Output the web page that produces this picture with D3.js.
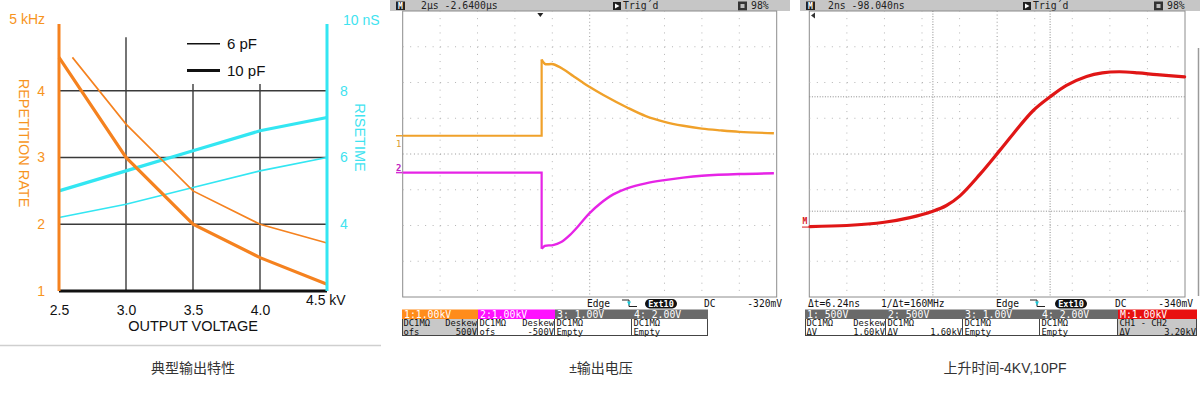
<!DOCTYPE html>
<html><head><meta charset="utf-8">
<script src="https://cdn.jsdelivr.net/npm/d3@7"></script>
<style>body{margin:0;background:#fff}svg{display:block}</style>
</head><body>
<script>
// ---------- Panel 1: typical output characteristics ----------
const voltage = [2.5, 3.0, 3.5, 4.0, 4.5];
const voltage6pF = [2.6, 3.0, 3.5, 4.0, 4.5];
const rate10pF = [4.5, 3.0, 2.0, 1.5, 1.1];
const rate6pF = [4.5, 3.5, 2.5, 2.0, 1.72];
const rise10pF = [5.0, 5.6, 6.2, 6.8, 7.2];
const rise6pF = [4.2, 4.6, 5.1, 5.6, 6.0];
const rateTicks = [1, 2, 3, 4];
const riseTicks = [4, 6, 8];
const voltTicks = [2.5, 3.0, 3.5, 4.0];
const legendLabels = ["6 pF", "10 pF"];
const captions = ["典型输出特性", "±输出电压", "上升时间-4KV,10PF"];

// ---------- Panel 2: ± output voltage (2 µs/div, 1 kV/div) ----------
const ch1Time = [0, 7.43, 7.43, 7.6, 8.05, 8.59, 9.12, 9.57, 9.98, 10.73, 12.0, 13.0, 14.0, 15.0, 16.0, 17.0, 18.0, 19.85];
const ch1Volt = [0.51, 0.51, 2.64, 2.52, 2.51, 2.37, 2.18, 2.02, 1.88, 1.65, 1.30, 1.06, 0.90, 0.79, 0.71, 0.66, 0.62, 0.58];
const ch2Time = [0, 7.43, 7.43, 7.6, 8.04, 8.45, 8.95, 9.45, 9.98, 10.55, 11.26, 12.0, 13.0, 14.0, 15.0, 16.0, 18.0, 19.85];
const ch2Volt = [-0.52, -0.52, -2.65, -2.57, -2.55, -2.47, -2.26, -1.98, -1.66, -1.39, -1.13, -0.96, -0.82, -0.73, -0.66, -0.61, -0.56, -0.54];
const scope2Header = ["2µs -2.6400µs", "Trig´d", "98%"];
const scope2Status = ["Edge", "Ext10", "DC", "-320mV"];
const scope2Heads = ["1:1.00kV", "2:1.00kV", "3: 1.00V", "4: 2.00V"];
const scope2Row2 = [["DC1MΩ", "Deskew"], ["DC1MΩ", "Deskew"], ["DC1MΩ", ""], ["DC1MΩ", ""]];
const scope2Row3 = [["ofs", "500V"], ["ofs", "-500V"], ["Empty", ""], ["Empty", ""]];

// ---------- Panel 3: rise time (2 ns/div, 1 kV/div) ----------
const riseTime = [0.04, 1.99, 3.99, 5.36, 6.58, 7.30, 8.02, 9.08, 10.11, 10.85, 11.91, 12.82, 13.69, 14.76, 15.6, 16.5, 17.5, 18.5, 19.98];
const riseVolt = [-2.03, -2.00, -1.91, -1.78, -1.60, -1.44, -1.17, -0.57, 0.08, 0.56, 1.21, 1.60, 1.92, 2.17, 2.27, 2.30, 2.27, 2.22, 2.16];
const cursorTimes = [6.58, 12.82];
const cursorVolts = [-1.6, 1.6];
const scope3Header = ["2ns -98.040ns", "Trig´d", "98%"];
const scope3Status = ["Δt=6.24ns", "1/Δt=160MHz", "Edge", "Ext10", "DC", "-340mV"];
const scope3Heads = ["1:  500V", "2:  500V", "3: 1.00V", "4: 2.00V", "M:1.00kV"];
const scope3Row2 = [["DC1MΩ", "Deskew"], ["DC1MΩ", ""], ["DC1MΩ", ""], ["DC1MΩ", ""], ["CH1 - CH2", ""]];
const scope3Row3 = [["ΔV", "1.60kV"], ["ΔV", "1.60kV"], ["Empty", ""], ["Empty", ""], ["ΔV", "3.20kV"]];

const svg = d3.select("body").append("svg").attr("width", 1200).attr("height", 400)
  .style("font-family", "Liberation Sans, Arial, sans-serif");

const ORANGE = "#f5821f", ORANGE_T = "#f7941d", CYAN = "#33e6f2", CYAN_T = "#3fe3f0";

// ================= PANEL 1 =================
(function () {
  const g = svg.append("g");
  const x = d3.scaleLinear([2.5, 4.5], [59, 327]);
  const yL = d3.scaleLinear([1, 5], [291, 24]);
  const yR = d3.scaleLinear([2, 10], [291, 24]);

  const grid = g.append("g").attr("stroke", "#3a3a3a").attr("stroke-width", 1.4);
  [2, 3, 4].forEach(v => grid.append("line").attr("x1", x(2.5)).attr("x2", x(4.5)).attr("y1", yL(v)).attr("y2", yL(v)));
  [[3.0, 4.8], [3.5, 4.1], [4.0, 4.1]].forEach(([v, top]) =>
    grid.append("line").attr("x1", x(v)).attr("x2", x(v)).attr("y1", yL(top)).attr("y2", yL(1)));

  const lineL = (xs, ys) => d3.line().x((d, i) => x(xs[i])).y(d => yL(d))(ys);
  const lineR = (xs, ys) => d3.line().x((d, i) => x(xs[i])).y(d => yR(d))(ys);
  g.append("path").attr("d", lineR(voltage, rise6pF)).attr("fill", "none").attr("stroke", CYAN).attr("stroke-width", 1.6);
  g.append("path").attr("d", lineR(voltage, rise10pF)).attr("fill", "none").attr("stroke", CYAN).attr("stroke-width", 3.2);
  g.append("path").attr("d", lineL(voltage6pF, rate6pF)).attr("fill", "none").attr("stroke", ORANGE).attr("stroke-width", 1.6);
  g.append("path").attr("d", lineL(voltage, rate10pF)).attr("fill", "none").attr("stroke", ORANGE).attr("stroke-width", 3.2);

  g.append("line").attr("x1", x(2.5)).attr("x2", x(4.5)).attr("y1", yL(1)).attr("y2", yL(1)).attr("stroke", "#111").attr("stroke-width", 3);
  g.append("line").attr("x1", x(2.5)).attr("x2", x(2.5)).attr("y1", yL(5)).attr("y2", yL(1)).attr("stroke", ORANGE).attr("stroke-width", 3);
  g.append("line").attr("x1", x(4.5)).attr("x2", x(4.5)).attr("y1", yR(10)).attr("y2", yR(2)).attr("stroke", CYAN).attr("stroke-width", 3);

  const ax = (sel) => { sel.select(".domain").remove(); sel.selectAll("text").style("font-family", "Liberation Sans, Arial, sans-serif").style("font-size", "14px"); };
  g.append("g").attr("transform", `translate(${x(2.5)},0)`)
    .call(d3.axisLeft(yL).tickValues(rateTicks).tickFormat(d3.format("d")).tickSize(0).tickPadding(14)).call(ax)
    .selectAll("text").attr("fill", ORANGE_T);
  g.append("g").attr("transform", `translate(${x(4.5)},0)`)
    .call(d3.axisRight(yR).tickValues(riseTicks).tickFormat(d3.format("d")).tickSize(0).tickPadding(13)).call(ax)
    .selectAll("text").attr("fill", CYAN_T);
  g.append("g").attr("transform", `translate(0,${yL(1)})`)
    .call(d3.axisBottom(x).tickValues(voltTicks).tickFormat(d3.format(".1f")).tickSize(0).tickPadding(14)).call(ax)
    .selectAll("text").attr("fill", "#111");

  g.append("text").attr("x", 306).attr("y", 305).attr("font-size", 14).attr("fill", "#111").text("4.5 kV");
  g.append("text").attr("x", 45).attr("y", 24).attr("text-anchor", "end").attr("font-size", 14).attr("fill", ORANGE_T).text("5 kHz");
  g.append("text").attr("x", 343).attr("y", 25).attr("font-size", 14).attr("fill", CYAN_T).text("10 nS");
  g.append("text").attr("x", 193).attr("y", 331).attr("text-anchor", "middle").attr("font-size", 14.5).attr("fill", "#111").text("OUTPUT VOLTAGE");
  g.append("text").attr("transform", "translate(24,143) rotate(90)").attr("text-anchor", "middle").attr("dy", "0.35em")
    .attr("font-size", 14.5).attr("fill", ORANGE_T).text("REPETITION RATE");
  g.append("text").attr("transform", "translate(360,137.5) rotate(90)").attr("text-anchor", "middle").attr("dy", "0.35em")
    .attr("font-size", 14.5).attr("fill", CYAN_T).text("RISETIME");

  const lg = g.append("g");
  legendLabels.forEach((lab, i) => {
    const ly = [43.7, 70.5][i];
    lg.append("line").attr("x1", 187).attr("x2", 220).attr("y1", ly).attr("y2", ly).attr("stroke", "#111").attr("stroke-width", i ? 3.2 : 1.5);
    lg.append("text").attr("x", 227).attr("y", ly).attr("dy", "0.36em").attr("font-size", 15).attr("fill", "#111").text(lab);
  });

  svg.append("line").attr("x1", 0).attr("x2", 381).attr("y1", 345.5).attr("y2", 345.5).attr("stroke", "#cfcfcf").attr("stroke-width", 1.5);
})();

// ================= SCOPE HELPERS =================
const MONO = "DejaVu Sans Mono, Liberation Mono, monospace";
const ys = d3.scaleLinear([-4, 4], [297, 11]);

function headerBar(x0, x1, texts, pos) {
  const g = svg.append("g").style("font-family", MONO);
  g.append("rect").attr("x", x0).attr("y", 0).attr("width", x1 - x0).attr("height", 11).attr("fill", "#c6c6c6");
  g.append("rect").attr("x", pos.m).attr("y", 1.5).attr("width", 9).attr("height", 8.5).attr("fill", "#222");
  g.append("text").attr("x", pos.m + 4.5).attr("y", 9).attr("text-anchor", "middle").attr("font-size", 8).attr("font-weight", "bold").attr("fill", "#fff").text("M");
  g.append("text").attr("x", pos.t).attr("y", 9.3).attr("font-size", 9.8).attr("fill", "#222").text(texts[0]);
  g.append("rect").attr("x", pos.trig).attr("y", 2).attr("width", 8).attr("height", 8).attr("fill", "#222");
  g.append("path").attr("d", `M${pos.trig + 2},${3.5}L${pos.trig + 6.5},${6}L${pos.trig + 2},${8.5}Z`).attr("fill", "#fff");
  g.append("text").attr("x", pos.trig + 10).attr("y", 9.3).attr("font-size", 9.8).attr("fill", "#222").text(texts[1]);
  g.append("rect").attr("x", pos.bat).attr("y", 1.5).attr("width", 9).attr("height", 9).attr("fill", "#333");
  g.append("rect").attr("x", pos.bat + 2.5).attr("y", 4).attr("width", 4).attr("height", 4).attr("fill", "#bbb");
  g.append("text").attr("x", pos.bat + 13).attr("y", 9.3).attr("font-size", 9.8).attr("fill", "#222").text(texts[2]);
}

function screen(xs) {
  const g = svg.append("g");
  g.append("rect").attr("x", xs(0)).attr("y", ys(4)).attr("width", xs(20) - xs(0)).attr("height", ys(-4) - ys(4))
    .attr("fill", "#fff").attr("stroke", "#8c8c8c").attr("stroke-width", 1);
  const dx = (xs(2) - xs(0)) / 5, dy = (ys(-1) - ys(0)) / 5;
  d3.range(2, 20, 2).forEach(t => {
    const c = t === 10;
    g.append("line").attr("x1", xs(t)).attr("x2", xs(t)).attr("y1", ys(4)).attr("y2", ys(-4))
      .attr("stroke", c ? "#999" : "#b5b5b5").attr("stroke-width", 1)
      .attr("stroke-dasharray", c ? `1,${dy / 2 - 1}` : `1,${dy - 1}`);
  });
  d3.range(-3, 4).forEach(v => {
    const c = v === 0;
    g.append("line").attr("x1", xs(0)).attr("x2", xs(20)).attr("y1", ys(v)).attr("y2", ys(v))
      .attr("stroke", c ? "#999" : "#b5b5b5").attr("stroke-width", 1)
      .attr("stroke-dasharray", c ? `1,${dx / 2 - 1}` : `1,${dx - 1}`);
  });
  return g;
}

function statusLine(items) {
  const g = svg.append("g").style("font-family", MONO).attr("font-size", 9.6).attr("fill", "#111");
  items.forEach(it => {
    if (it.type === "trig") {
      g.append("path").attr("d", `M${it.x},${300}H${it.x + 7}V${306.5}H${it.x + 15}`).attr("fill", "none").attr("stroke", "#222").attr("stroke-width", 1);
      g.append("path").attr("d", `M${it.x + 5},${301.5}L${it.x + 9},${301.5}L${it.x + 7},${305.5}Z`).attr("fill", "#19c8d8");
    } else if (it.type === "pill") {
      g.append("rect").attr("x", it.x).attr("y", 299).attr("width", 32).attr("height", 9.5).attr("rx", 4.75).attr("fill", "#111");
      g.append("text").attr("x", it.x + 16).attr("y", 307).attr("text-anchor", "middle").attr("font-size", 8.5).attr("font-weight", "bold").attr("fill", "#fff").text(it.text);
    } else {
      g.append("text").attr("x", it.x).attr("y", 307).attr("text-anchor", it.anchor || "start").text(it.text);
    }
  });
}

function table(cols, heads, headFills, row2, row3, rowFills) {
  const g = svg.append("g").style("font-family", MONO).attr("font-size", 8.8);
  const yTop = 309.5, yH = 319, yR2 = 327.5, yB = 336;
  heads.forEach((h, i) => {
    const x0 = cols[i], x1 = cols[i + 1];
    g.append("rect").attr("x", x0).attr("y", yTop).attr("width", x1 - x0).attr("height", yH - yTop).attr("fill", headFills[i]);
    g.append("rect").attr("x", x0).attr("y", yH).attr("width", x1 - x0).attr("height", yB - yH).attr("fill", rowFills[i]);
    g.append("text").attr("x", x0 + 2).attr("y", yH - 1.4).attr("font-size", 9.8).attr("fill", "#fff").text(h);
    [[row2[i], yR2 - 1.3], [row3[i], yB - 1.3]].forEach(([r, yy]) => {
      g.append("text").attr("x", x0 + 1.5).attr("y", yy).attr("fill", "#111").text(r[0]);
      if (r[1]) g.append("text").attr("x", x1 - 1).attr("y", yy).attr("text-anchor", "end").attr("fill", "#111").text(r[1]);
    });
    g.append("line").attr("x1", x1 - 0.5).attr("x2", x1 - 0.5).attr("y1", yH).attr("y2", yB).attr("stroke", "#444").attr("stroke-width", 1);
  });
  g.append("line").attr("x1", cols[0] + 0.5).attr("x2", cols[0] + 0.5).attr("y1", yH).attr("y2", yB).attr("stroke", "#444");
  g.append("line").attr("x1", cols[0]).attr("x2", cols[cols.length - 1]).attr("y1", yB - 0.5).attr("y2", yB - 0.5).attr("stroke", "#444");
}

// ================= PANEL 2 =================
(function () {
  const xs = d3.scaleLinear([0, 20], [402.7, 776.7]);
  headerBar(390, 790, scope2Header, { m: 396, t: 421, trig: 613, bat: 738 });
  screen(xs);
  svg.append("path").attr("d", `M${xs(7.36) - 3},13L${xs(7.36) + 3},13L${xs(7.36)},17Z`).attr("fill", "#222");

  const drawTrace = (T, V, color) => {
    const pts = T.map((t, i) => [xs(t), ys(V[i])]);
    svg.append("path").attr("d", d3.line().curve(d3.curveLinear)(pts.slice(0, 3)))
      .attr("fill", "none").attr("stroke", color).attr("stroke-width", 2.2);
    svg.append("path").attr("d", d3.line().curve(d3.curveCatmullRom.alpha(0.5))(pts.slice(2)))
      .attr("fill", "none").attr("stroke", color).attr("stroke-width", 2.4);
  };
  drawTrace(ch1Time, ch1Volt, "#f0a12a");
  drawTrace(ch2Time, ch2Volt, "#e624e6");

  svg.append("line").attr("x1", 396).attr("x2", 402).attr("y1", ys(ch1Volt[0])).attr("y2", ys(ch1Volt[0])).attr("stroke", "#f0a12a").attr("stroke-width", 1.5);
  svg.append("text").attr("x", 396).attr("y", ys(ch1Volt[0]) + 11).attr("font-size", 9).attr("fill", "#d99a30").style("font-family", MONO).text("1");
  svg.append("line").attr("x1", 396).attr("x2", 402).attr("y1", ys(ch2Volt[0])).attr("y2", ys(ch2Volt[0])).attr("stroke", "#d62ad6").attr("stroke-width", 1.5);
  svg.append("text").attr("x", 396).attr("y", ys(ch2Volt[0]) - 2).attr("font-size", 9).attr("font-weight", "bold").attr("fill", "#c026c0").style("font-family", MONO).text("2");

  statusLine([
    { text: scope2Status[0], x: 587 },
    { type: "trig", x: 622 },
    { type: "pill", text: scope2Status[1], x: 645 },
    { text: scope2Status[2], x: 704 },
    { text: scope2Status[3], x: 782, anchor: "end" }
  ]);
  table([402, 478, 555, 632, 708], scope2Heads, ["#ff8c1a", "#ff10ff", "#6a6a6a", "#6a6a6a"],
    scope2Row2, scope2Row3, ["#c8c8c8", "#fff", "#fff", "#fff"]);
})();

// ================= PANEL 3 =================
(function () {
  const xs = d3.scaleLinear([0, 20], [809.3, 1185]);
  headerBar(800, 1200, scope3Header, { m: 806, t: 828, trig: 1023, bat: 1154 });
  screen(xs);
  cursorTimes.forEach(t => svg.append("line").attr("x1", xs(t)).attr("x2", xs(t)).attr("y1", ys(4)).attr("y2", ys(-4))
    .attr("stroke", "#8a8a8a").attr("stroke-width", 1).attr("stroke-dasharray", "1,1.6"));
  cursorVolts.forEach(v => svg.append("line").attr("x1", xs(0)).attr("x2", xs(20)).attr("y1", ys(v)).attr("y2", ys(v))
    .attr("stroke", "#8a8a8a").attr("stroke-width", 1).attr("stroke-dasharray", "1,1.6"));
  svg.append("path").attr("d", `M811,15.5L815,12.5L815,18.5Z`).attr("fill", "#333");

  svg.append("path").attr("d", d3.line().curve(d3.curveCatmullRom.alpha(0.5))(riseTime.map((t, i) => [xs(t), ys(riseVolt[i])])))
    .attr("fill", "none").attr("stroke", "#e01616").attr("stroke-width", 3.2).attr("stroke-linecap", "round");

  svg.append("text").attr("x", 802.5).attr("y", 224).attr("font-size", 8).attr("font-weight", "bold").attr("fill", "#d81a1a").style("font-family", MONO).text("M");
  svg.append("line").attr("x1", 802).attr("x2", 809).attr("y1", ys(riseVolt[0]) + 0.5).attr("y2", ys(riseVolt[0]) + 0.5).attr("stroke", "#d81a1a").attr("stroke-width", 1);

  svg.append("line").attr("x1", 1198.5).attr("x2", 1198.5).attr("y1", 48).attr("y2", 296).attr("stroke", "#9a9a9a").attr("stroke-width", 1.5);

  statusLine([
    { text: scope3Status[0], x: 808 },
    { text: scope3Status[1], x: 881 },
    { text: scope3Status[2], x: 996 },
    { type: "trig", x: 1030 },
    { type: "pill", text: scope3Status[3], x: 1055 },
    { text: scope3Status[4], x: 1115 },
    { text: scope3Status[5], x: 1193, anchor: "end" }
  ]);
  table([805, 886, 963, 1040, 1118, 1197], scope3Heads, ["#6a6a6a", "#6a6a6a", "#6a6a6a", "#6a6a6a", "#e81010"],
    scope3Row2, scope3Row3, ["#fff", "#fff", "#fff", "#fff", "#c8c8c8"]);
})();

// ================= CAPTIONS =================
[193, 601, 1005].forEach((cx, i) =>
  svg.append("text").attr("x", cx).attr("y", 368).attr("dy", "0.35em").attr("text-anchor", "middle")
    .style("font-family", "Liberation Sans, Noto Sans CJK SC, sans-serif").attr("font-size", 14).attr("fill", "#333").text(captions[i]));
</script>
</body></html>
